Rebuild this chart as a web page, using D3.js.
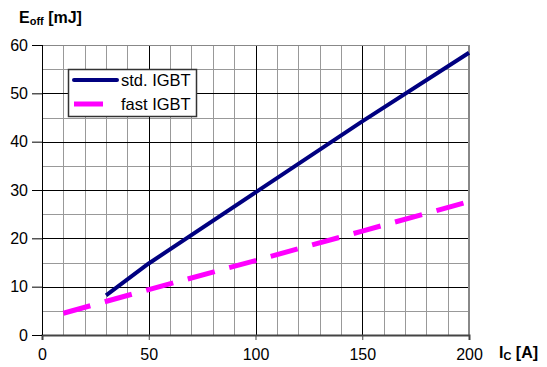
<!DOCTYPE html>
<html>
<head>
<meta charset="utf-8">
<script src="https://cdn.jsdelivr.net/npm/d3@7"></script>
<style>
  html, body { margin: 0; padding: 0; background: #fff; }
  svg { display: block; }
  text { font-family: "Liberation Sans", Arial, sans-serif; }
</style>
</head>
<body>
<svg id="chart" width="547" height="367"></svg>
<script>
// ---- data ----
const stdCurrent = [30, 50, 100, 150, 200];
const stdEoff    = [8.2, 14.8, 29.5, 44.2, 58.4];
const fastCurrent = [10, 50, 100, 150, 200];
const fastEoff    = [4.5, 9.4, 15.4, 21.5, 27.6];
const seriesNames = ["std. IGBT", "fast IGBT"];
const xTicks = [0, 50, 100, 150, 200];
const yTicks = [0, 10, 20, 30, 40, 50, 60];

const svg = d3.select("#chart");
const x = d3.scaleLinear().domain([0, 200]).range([42, 469]);
const y = d3.scaleLinear().domain([0, 60]).range([335, 45]);

const snap = v => Math.round(v) + 0.5;

// minor grid
const g = svg.append("g");
d3.range(10, 200, 10).filter(v => v % 50 !== 0).forEach(v => {
  g.append("line").attr("x1", snap(x(v))).attr("x2", snap(x(v)))
    .attr("y1", y(60)).attr("y2", y(0)).attr("stroke", "#999").attr("stroke-width", 1);
});
d3.range(5, 60, 5).filter(v => v % 10 !== 0).forEach(v => {
  g.append("line").attr("y1", snap(y(v))).attr("y2", snap(y(v)))
    .attr("x1", x(0)).attr("x2", x(200)).attr("stroke", "#999").attr("stroke-width", 1);
});
// major grid
[50, 100, 150].forEach(v => {
  g.append("line").attr("x1", snap(x(v))).attr("x2", snap(x(v)))
    .attr("y1", y(60)).attr("y2", y(0)).attr("stroke", "#000").attr("stroke-width", 1);
});
[10, 20, 30, 40, 50].forEach(v => {
  g.append("line").attr("y1", snap(y(v))).attr("y2", snap(y(v)))
    .attr("x1", x(0)).attr("x2", x(200)).attr("stroke", "#000").attr("stroke-width", 1);
});
// frame top & right
g.append("line").attr("x1", x(0)).attr("x2", x(200)).attr("y1", snap(y(60))).attr("y2", snap(y(60)))
  .attr("stroke", "#888").attr("stroke-width", 1);
g.append("line").attr("x1", x(200)).attr("x2", x(200)).attr("y1", y(60)).attr("y2", y(0))
  .attr("stroke", "#888").attr("stroke-width", 2);

// axes
const xAxis = d3.axisBottom(x).tickValues(xTicks).tickSize(5).tickPadding(9);
const yAxis = d3.axisLeft(y).tickValues(yTicks).tickSize(10).tickPadding(4);

const gx = svg.append("g").attr("transform", `translate(0,${y(0)})`).call(xAxis);
gx.select(".domain").attr("stroke", "#444").attr("stroke-width", 2);
gx.selectAll(".tick line").attr("stroke", "#444");
gx.selectAll("text").attr("font-size", 16).attr("fill", "#000")
  .style("font-family", "'Liberation Sans', Arial, sans-serif");

const gy = svg.append("g").attr("transform", `translate(${snap(x(0)) - 0.5},0)`).call(yAxis);
gy.select(".domain").attr("stroke", "#000").attr("stroke-width", 1)
  .attr("d", `M0.5,${y(60)}V${y(0)}`);
gy.selectAll(".tick line").attr("stroke", "#000");
gy.selectAll("text").attr("font-size", 16).attr("fill", "#000")
  .style("font-family", "'Liberation Sans', Arial, sans-serif");

// lines
const stdData = stdCurrent.map((c, i) => [c, stdEoff[i]]);
const fastData = fastCurrent.map((c, i) => [c, fastEoff[i]]);
const line = d3.line().x(d => x(d[0])).y(d => y(d[1]));

svg.append("path").datum(fastData).attr("d", line)
  .attr("fill", "none").attr("stroke", "#FF00FF").attr("stroke-width", 5)
  .attr("stroke-dasharray", "28,15");
svg.append("path").datum(stdData).attr("d", line)
  .attr("fill", "none").attr("stroke", "#000080").attr("stroke-width", 4)
  .attr("stroke-linejoin", "round");

// legend
const lg = svg.append("g");
lg.append("rect").attr("x", 68.5).attr("y", 69.5).attr("width", 128).attr("height", 47)
  .attr("fill", "#fff").attr("stroke", "#333").attr("stroke-width", 1.5);
lg.append("line").attr("x1", 74).attr("x2", 117).attr("y1", 80).attr("y2", 80)
  .attr("stroke", "#000080").attr("stroke-width", 4).attr("stroke-linecap", "round");
lg.append("line").attr("x1", 74).attr("x2", 103).attr("y1", 104).attr("y2", 104)
  .attr("stroke", "#FF00FF").attr("stroke-width", 5);
lg.append("text").attr("x", 121).attr("y", 86).attr("font-size", 16.5).text(seriesNames[0]);
lg.append("text").attr("x", 121).attr("y", 110).attr("font-size", 16.5).text(seriesNames[1]);

// axis titles
const ty = svg.append("text").attr("x", 19).attr("y", 23).attr("font-size", 16).attr("font-weight", "bold");
ty.append("tspan").text("E");
ty.append("tspan").attr("font-size", 11).attr("dy", 2).text("off");
ty.append("tspan").attr("dy", -2).text(" [mJ]");

const tx = svg.append("text").attr("x", 499).attr("y", 358).attr("font-size", 16).attr("font-weight", "bold");
tx.append("tspan").text("I");
tx.append("tspan").attr("font-size", 11).attr("dy", 2).text("C");
tx.append("tspan").attr("dy", -2).text(" [A]");
</script>
</body>
</html>
